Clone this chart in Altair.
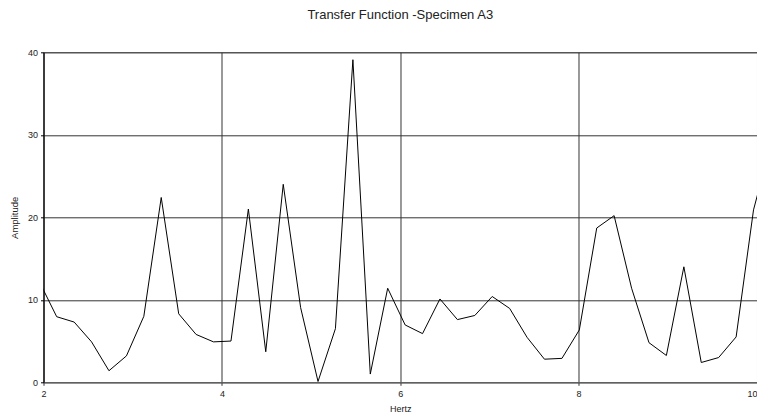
import altair as alt
import pandas as pd

hertz = [1.953, 2.148, 2.344, 2.539, 2.734, 2.930, 3.125, 3.320, 3.516, 3.711,
         3.906, 4.102, 4.297, 4.492, 4.688, 4.883, 5.078, 5.273, 5.469, 5.664,
         5.859, 6.055, 6.250, 6.445, 6.641, 6.836, 7.031, 7.227, 7.422, 7.617,
         7.813, 8.008, 8.203, 8.398, 8.594, 8.789, 8.984, 9.180, 9.375, 9.570,
         9.766, 9.961, 10.156]
amplitude = [12.2, 7.95, 7.3, 4.9, 1.4, 3.2, 8.0, 22.4, 8.3, 5.8,
             4.9, 5.0, 21.0, 3.7, 24.0, 9.05, 0.1, 6.5, 39.1, 1.0,
             11.4, 6.95, 5.9, 10.1, 7.6, 8.1, 10.4, 8.95, 5.45, 2.8,
             2.9, 6.35, 18.7, 20.2, 11.4, 4.8, 3.25, 14.0, 2.4, 3.0,
             5.5, 20.9, 28.9]
x_ticks = [2, 4, 6, 8, 10]
y_ticks = [0, 10, 20, 30, 40]

df = pd.DataFrame({"Hertz": hertz, "Amplitude": amplitude})

FONT = "Liberation Sans"

chart = alt.Chart(df).mark_line(color="black", strokeWidth=1, clip=True).encode(
    x=alt.X("Hertz:Q",
            scale=alt.Scale(domain=[2, 10], nice=False, zero=False),
            axis=alt.Axis(values=x_ticks, title="Hertz", grid=True,
                          gridColor="#333333", gridWidth=1,
                          domainColor="#666666", tickColor="#333333", tickSize=3,
                          labelFont=FONT, labelFontSize=9, labelColor="#222222",
                          labelPadding=4, labelFlush=False,
                          labelAlign=alt.expr("datum.value == 10 ? 'right' : 'center'"),
                          titleFont=FONT, titleFontSize=9, titleFontWeight="normal",
                          titleColor="#222222", titleY=26, titleBaseline="middle")),
    y=alt.Y("Amplitude:Q",
            scale=alt.Scale(domain=[0, 40], nice=False),
            axis=alt.Axis(values=y_ticks, title="Amplitude", grid=True,
                          gridColor="#333333", gridWidth=1,
                          domainColor="black", tickColor="black", tickSize=3,
                          labelFont=FONT, labelFontSize=9, labelColor="#222222",
                          labelPadding=3,
                          titleFont=FONT, titleFontSize=9.5, titleFontWeight="normal",
                          titleColor="#222222", titleX=-29, titleY=165,
                          titleAngle=-90, titleAlign="center",
                          titleBaseline="middle")),
).properties(
    width=713.5,
    height=330,
    title=alt.TitleParams("Transfer Function -Specimen A3", font=FONT,
                          fontSize=13, fontWeight="normal", color="#222222",
                          anchor="middle", offset=26),
    autosize=alt.AutoSizeParams(type="none"),
    padding={"left": 35.5, "top": 44.3, "right": 0, "bottom": 30},
).configure_view(stroke="#808080", strokeWidth=1)

chart.save("out.html", embed_options={"renderer": "svg", "actions": False})
